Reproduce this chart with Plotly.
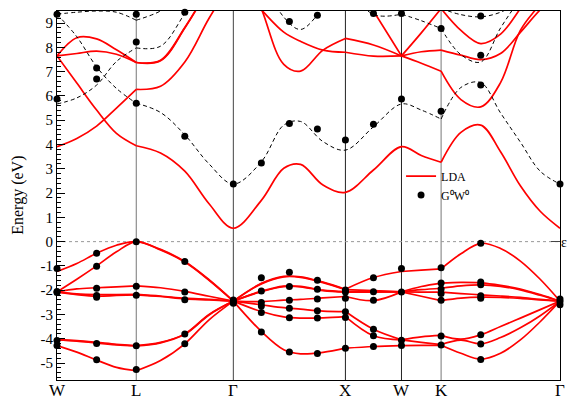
import plotly.graph_objects as go

# ---------------- k-path ----------------
path_labels = ["W", "L", "Γ", "X", "W", "K", "Γ"]
segment_lengths = [0.7071, 0.8660, 1.0000, 0.5000, 0.3536, 1.0607]  # 2π/a units
segment_fracs = [
    [0, 0.25, 0.5, 0.75],
    [0, 0.25, 0.5, 0.75],
    [0, 0.25, 0.45, 0.6, 0.8],
    [0, 0.5],
    [0, 0.5],
    [0, 1/6, 1/3, 1/2, 2/3, 5/6],
]

# ---------------- LDA valence bands (eV) at path nodes ----------------
v1 = [-1.23, -0.90, -0.48, -0.15, 0.00, -0.32, -0.82, -1.57, -2.45, -1.72, -1.43, -1.45, -1.67,
      -1.96, -1.48, -1.23, -1.17, -1.12, -0.50, -0.07, -0.28, -0.80, -1.55, -2.45]
v2 = [-2.07, -1.55, -1.00, -0.42, 0.00, -0.34, -0.84, -1.59, -2.45, -1.74, -1.45, -1.47, -1.69,
      -1.98, -2.02, -2.07, -1.85, -1.71, -1.68, -1.70, -1.80, -1.95, -2.18, -2.45]
v3 = [-2.07, -1.95, -1.90, -1.86, -1.82, -1.90, -2.05, -2.25, -2.45, -2.04, -1.83, -1.84, -2.00,
      -2.06, -2.05, -2.07, -1.98, -1.92, -1.82, -1.78, -1.84, -1.99, -2.21, -2.45]
v4 = [-2.07, -2.15, -2.18, -2.18, -2.17, -2.24, -2.33, -2.38, -2.45, -2.06, -1.85, -1.86, -2.02,
      -2.08, -2.08, -2.07, -2.08, -2.08, -2.14, -2.19, -2.24, -2.30, -2.38, -2.45]
v5 = [-2.07, -2.18, -2.25, -2.22, -2.19, -2.26, -2.36, -2.40, -2.45, -2.47, -2.41, -2.38, -2.32,
      -2.26, -2.43, -2.07, -2.25, -2.43, -2.33, -2.29, -2.30, -2.34, -2.40, -2.45]
v6 = [-4.04, -4.08, -4.15, -4.23, -4.28, -4.15, -3.80, -3.00, -2.45, -2.60, -2.72, -2.78, -2.86,
      -2.88, -3.61, -4.04, -3.92, -3.86, -4.02, -3.84, -3.50, -3.15, -2.80, -2.45]
v7 = [-4.05, -4.10, -4.18, -4.25, -4.30, -4.17, -3.82, -3.02, -2.45, -2.88, -3.10, -3.15, -3.14,
      -3.09, -3.88, -4.05, -4.15, -4.24, -4.06, -4.21, -3.95, -3.55, -3.05, -2.45]
v8 = [-4.28, -4.55, -4.88, -5.18, -5.32, -4.90, -4.21, -3.22, -2.45, -3.70, -4.45, -4.62, -4.56,
      -4.39, -4.32, -4.28, -4.27, -4.27, -4.60, -4.84, -4.60, -4.05, -3.30, -2.45]

# ---------------- LDA conduction bands (eV) ----------------
c1 = [7.65, 6.53, 5.42, 4.46, 3.95, 3.65, 2.90, 1.56, 0.55, 1.70, 3.02, 3.18, 2.33,
      2.03, 2.95, 3.91, 3.55, 3.27, 4.50, 4.80, 3.70, 2.30, 1.25, 0.55]
c2 = [3.91, 4.25, 4.76, 5.50, 6.27, 6.40, 7.40, 9.20, 10.8, 9.55, 8.63, 8.25, 7.89,
      7.80, 7.64, 7.65, 7.82, 7.89, 7.68, 7.50, 7.75, 8.62, 9.55, 10.3]
c3 = [7.65, 7.75, 7.85, 7.72, 7.38, 7.45, 8.80, 10.5, 12.5, 9.60, 7.30, 7.02, 7.89,
      8.37, 8.10, 7.65, 7.35, 7.02, 5.85, 5.55, 6.55, 8.70, 9.80, 11.0]
c4 = [7.65, 8.40, 8.35, 7.90, 7.38, 7.47, 8.82, 10.5, 12.5, None, None, None, None,
      11.3, 9.50, 7.65, 8.60, 9.60, 8.70, 8.16, 8.55, 9.60, 10.8, 11.5]

# ---------------- GW interpolated conduction bands (dashed) ----------------
g1 = [5.67, 5.92, 6.45, 7.42, 7.98, 8.05, 9.40, 11.0, 12.0, None, None, None, None,
      None, None, None, None, None, None, None, None, None, None, None]
g2 = [9.37, 8.44, 7.20, 6.31, 5.70, 5.32, 4.40, 3.20, 2.37, 3.29, 4.80, 4.95, 4.12,
      3.77, 4.73, 5.67, 5.42, 5.05, 6.35, 6.55, 5.30, 4.10, 2.90, 2.37]
g3 = [9.37, 9.45, 9.50, 9.45, 9.12, 9.50, 10.2, 11.0, 13.0, 10.9, 9.25, 8.74, 9.60,
      10.6, 9.36, 9.37, 9.10, 8.78, 7.70, 7.40, 8.80, 10.0, 11.0, 11.5]
g4 = [None, None, None, None, None, None, None, None, None, None, None, None, None,
      None, None, None, None, 9.60, 9.35, 9.26, 9.45, 9.90, 10.3, 10.5]

# ---------------- G0W0 points: position along path (segment units) and energies ----------------
gw_path_pos = [0, 0.5, 1, 1.5, 2, 2.25, 2.5, 2.75, 3, 3.5, 4, 5, 5 + 1/3, 6]
gw_W = [9.37, 5.87, -1.11, -2.05, -2.10, -4.07, -4.28]
gw_WL = [7.15, 6.70, -0.48, -1.01, -1.92, -2.22, -2.29, -4.20, -4.87]
gw_L = [9.37, 8.22, 5.70, 0.00, -1.84, -2.21, -4.29, -5.27]
gw_LG = [9.45, 4.34, -0.82, -2.08, -2.39, -3.80, -4.21]
gw_G = [2.37, -2.40, -2.47, -2.54]
gw_GX1 = [3.24, -1.49, -2.03, -2.51, -2.65, -2.92, -3.72]
gw_GX2 = [9.07, 4.87, -1.26, -1.85, -2.41, -2.74, -3.14, -4.55]
gw_GX3 = [9.33, 4.64, -1.59, -1.96, -2.36, -2.85, -3.15, -4.61]
gw_X = [4.19, -1.99, -2.07, -2.33, -2.89, -3.13, -4.39]
gw_XW = [9.40, 4.83, -1.49, -2.06, -2.41, -3.61, -3.88, -4.32]
gw_W2 = [9.40, 5.87, -1.11, -2.08, -4.06, -4.28]
gw_K = [8.78, 5.37, -1.08, -1.70, -1.95, -2.14, -2.41, -3.89, -4.26]
gw_KG = [9.29, 7.68, 6.45, -0.07, -1.66, -1.78, -2.23, -2.33, -3.84, -4.22, -4.86]
gw_G2 = [2.37, -2.36, -2.47, -2.60]
gw_sets = [gw_W, gw_WL, gw_L, gw_LG, gw_G, gw_GX1, gw_GX2, gw_GX3, gw_X, gw_XW,
           gw_W2, gw_K, gw_KG, gw_G2]

# ---------------- geometry of path ----------------
sym_k = [0.0]
for seg_len in segment_lengths:
    sym_k.append(sym_k[-1] + seg_len)
node_k, sym_nodes = [], []
for s, fr in enumerate(segment_fracs):
    sym_nodes.append(len(node_k))
    for f in fr:
        node_k.append(sym_k[s] + f * segment_lengths[s])
sym_nodes.append(len(node_k))
node_k.append(sym_k[-1])


def path_k(p):
    s = int(p)
    if s >= len(segment_lengths):
        return sym_k[-1]
    return sym_k[s] + (p - s) * segment_lengths[s]


def pieces(values, breaks):
    idx = sorted(set([0, len(values) - 1] + list(breaks)))
    for a, b in zip(idx[:-1], idx[1:]):
        seg = values[a:b + 1]
        if any(v is None for v in seg):
            continue
        yield node_k[a:b + 1], seg


fig = go.Figure()

RED = "#ff0000"
default_breaks = sym_nodes
band_breaks = {
    "v1": [8, 13, 15, 17], "v2": [8, 13, 15, 17],
    "c1": [4, 17],
}
lda = [("v1", v1), ("v2", v2), ("v3", v3), ("v4", v4), ("v5", v5), ("v6", v6), ("v7", v7),
       ("v8", v8), ("c1", c1), ("c2", c2), ("c3", c3), ("c4", c4)]
first = True
for name, vals in lda:
    for xs, ys in pieces(vals, band_breaks.get(name, default_breaks)):
        fig.add_trace(go.Scatter(
            x=xs, y=ys, mode="lines", name="LDA", legendgroup="lda",
            showlegend=first, line=dict(color=RED, width=1.7, shape="spline", smoothing=1.0),
            hoverinfo="skip"))
        first = False

gw_breaks = {"g2": [4, 17]}
for name, vals in [("g1", g1), ("g2", g2), ("g3", g3), ("g4", g4)]:
    for xs, ys in pieces(vals, gw_breaks.get(name, default_breaks)):
        fig.add_trace(go.Scatter(
            x=xs, y=ys, mode="lines", showlegend=False,
            line=dict(color="black", width=1, dash="4px,3px", shape="spline", smoothing=1.0),
            hoverinfo="skip"))

gx, gy = [], []
for p, es in zip(gw_path_pos, gw_sets):
    for e in es:
        gx.append(path_k(p))
        gy.append(e)
fig.add_trace(go.Scatter(
    x=gx, y=gy, mode="markers", name="G⁰W⁰",
    marker=dict(color="black", size=7), cliponaxis=False, hoverinfo="skip"))

# invisible trace to carry the right axis (Fermi level mark)
fig.add_trace(go.Scatter(x=[0], y=[0], yaxis="y2", mode="markers",
                         marker=dict(opacity=0), showlegend=False, hoverinfo="skip"))

# vertical lines at interior high-symmetry points
vcolors = ["#777777", "#444444", "#222222", "#222222", "#777777"]
for k, col in zip(sym_k[1:-1], vcolors):
    fig.add_vline(x=k, line=dict(color=col, width=1), layer="below")
fig.add_hline(y=0, line=dict(color="#999999", width=1, dash="dot"), layer="below")

# high-symmetry point labels under the axis
path_annotations = [dict(text=lab, x=k, xref="x", y=0, yref="paper", yanchor="top",
                         xanchor="center", yshift=1, showarrow=False,
                         font=dict(size=17, family="Liberation Serif"))
                    for lab, k in zip(path_labels, sym_k)]

ytick_vals = list(range(-5, 10))
fig.update_layout(
    width=569, height=396,
    margin=dict(l=57, r=9, t=11, b=16, autoexpand=False),
    plot_bgcolor="white", paper_bgcolor="white",
    font=dict(family="Liberation Serif", color="black"),
    showlegend=True,
    legend=dict(x=0.684, y=0.592, xanchor="left", yanchor="top",
                font=dict(size=12, family="Liberation Serif"),
                bgcolor="rgba(0,0,0,0)", itemwidth=30, tracegroupgap=0),
    xaxis=dict(range=[0, sym_k[-1]], tickvals=sym_k, ticktext=[""] * len(sym_k),
               ticks="", showline=True, linecolor="black", linewidth=1.2, mirror=True,
               showgrid=False, zeroline=False, automargin=False),
    yaxis=dict(range=[-5.7, 9.5], tickmode="array", tickvals=ytick_vals,
               ticktext=[str(v) for v in ytick_vals],
               ticks="inside", ticklen=8, tickwidth=1, tickcolor="black",
               minor=dict(dtick=0.2, tick0=0, ticks="inside", ticklen=4, tickcolor="black"),
               showline=True, linecolor="black", linewidth=1.2, mirror=True,
               showgrid=False, zeroline=False, tickfont=dict(size=15), automargin=False),
    yaxis2=dict(range=[-5.7, 9.5], overlaying="y", side="right", tickmode="array",
                tickvals=[0], ticktext=["ε"], ticks="inside", ticklen=9, tickcolor="#444444",
                showline=False, showgrid=False, zeroline=False, tickfont=dict(size=14),
                automargin=False),
    annotations=[dict(text="Energy (eV)", textangle=-90, xref="paper", yref="paper",
                      x=-0.079, y=0.5, xanchor="center", yanchor="middle", showarrow=False,
                      font=dict(size=16, family="Liberation Serif"))] + path_annotations,
)

fig.write_html("out.html", config={"displayModeBar": False},
               post_script="document.body.style.margin='0px';"
                           "document.body.style.overflow='hidden';")
